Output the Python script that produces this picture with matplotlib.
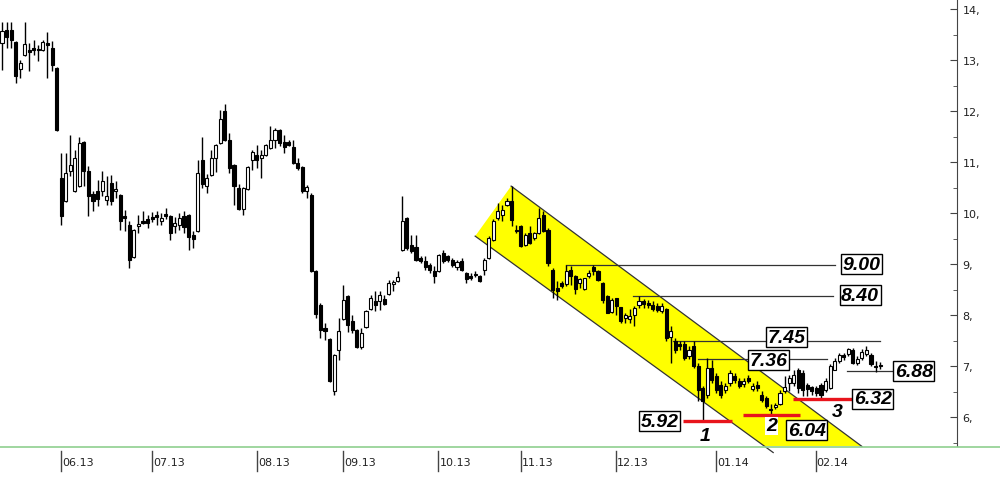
import matplotlib
matplotlib.use("Agg")
import matplotlib.pyplot as plt
from matplotlib.lines import Line2D
from matplotlib.patches import Polygon
from matplotlib.ticker import MultipleLocator, FuncFormatter

# daily candles, Jun 2013 - Feb 2014
opens = [
    13.33, 13.59, 13.59, 13.35, 12.82, 13.10, 13.20, 13.24, 13.21, 13.20,
    13.33, 13.24, 12.84, 10.69, 10.24, 10.82, 10.43, 10.53, 11.39, 10.82,
    10.37, 10.43, 10.43, 10.26, 10.59, 10.43, 10.35, 9.94, 9.77, 9.14,
    9.75, 9.84, 9.88, 9.91, 9.96, 9.84, 9.98, 9.94, 9.75, 9.77,
    9.94, 9.96, 9.57, 9.65, 11.04, 10.53, 10.75, 11.08, 11.37, 12.00,
    11.43, 10.94, 10.49, 10.08, 10.47, 11.04, 11.14, 11.08, 11.14, 11.27,
    11.43, 11.63, 11.39, 11.39, 11.29, 10.98, 10.90, 10.43, 10.35, 8.86,
    8.20, 7.75, 7.53, 6.51, 7.32, 7.92, 8.37, 7.88, 7.71, 7.37,
    7.77, 8.12, 8.27, 8.27, 8.31, 8.41, 8.61, 8.67, 9.27, 9.90,
    9.37, 9.33, 9.12, 9.06, 8.98, 8.86, 8.86, 9.22, 9.16, 9.08,
    8.94, 9.06, 8.82, 8.77, 8.80, 8.77, 8.88, 9.12, 9.47, 9.90,
    9.96, 10.16, 10.24, 9.67, 9.75, 9.37, 9.61, 9.51, 9.61, 9.96,
    9.67, 8.88, 8.53, 8.63, 8.61, 8.88, 8.77, 8.63, 8.51, 8.77,
    8.94, 8.86, 8.63, 8.37, 8.06, 8.33, 8.16, 7.94, 7.92, 8.00,
    8.20, 8.27, 8.24, 8.20, 8.18, 8.08, 8.12, 7.57, 7.49, 7.43,
    7.43, 7.20, 7.39, 7.00, 6.57, 6.43, 6.96, 6.80, 6.63, 6.53,
    6.67, 6.80, 6.71, 6.65, 6.77, 6.55, 6.63, 6.43, 6.37, 6.16,
    6.20, 6.27, 6.51, 6.67, 6.67, 6.92, 6.86, 6.63, 6.59, 6.57,
    6.63, 6.53, 6.57, 6.92, 7.10, 7.22, 7.24, 7.31, 7.06, 7.16,
    7.24, 7.22, 7.00, 7.02,
]
highs = [
    13.75, 13.75, 13.75, 13.37, 13.00, 13.75, 13.33, 13.39, 13.29, 13.39,
    13.55, 13.37, 12.86, 11.18, 11.18, 11.53, 11.24, 11.49, 11.41, 10.92,
    10.43, 10.65, 10.82, 10.73, 10.75, 10.63, 10.37, 10.06, 9.84, 9.69,
    9.96, 10.04, 9.96, 10.02, 10.04, 10.00, 10.10, 9.96, 9.92, 10.00,
    10.04, 9.98, 9.65, 11.04, 11.49, 10.77, 11.24, 11.35, 12.02, 12.14,
    11.57, 10.96, 10.57, 10.51, 10.92, 11.24, 11.33, 11.24, 11.35, 11.71,
    11.67, 11.65, 11.53, 11.43, 11.43, 11.08, 10.92, 10.55, 10.39, 8.88,
    8.24, 7.85, 7.55, 7.24, 7.94, 8.59, 8.39, 8.00, 7.73, 7.75,
    8.10, 8.39, 8.47, 8.47, 8.39, 8.69, 8.69, 8.86, 10.33, 9.92,
    9.57, 9.57, 9.16, 9.16, 9.02, 8.96, 9.20, 9.28, 9.18, 9.12,
    9.08, 9.12, 8.84, 8.82, 8.86, 8.79, 9.12, 9.55, 9.88, 10.20,
    10.16, 10.29, 10.53, 9.77, 9.77, 9.61, 9.75, 9.63, 10.10, 10.04,
    9.71, 8.92, 8.67, 8.67, 8.98, 8.96, 8.79, 8.73, 8.73, 8.88,
    8.98, 8.88, 8.65, 8.39, 8.33, 8.33, 8.16, 8.04, 8.12, 8.18,
    8.37, 8.31, 8.29, 8.27, 8.24, 8.24, 8.14, 7.78, 7.55, 7.49,
    7.49, 7.39, 7.49, 7.06, 6.61, 7.16, 7.12, 6.86, 6.71, 6.67,
    6.92, 6.86, 6.77, 6.77, 6.82, 6.67, 6.71, 6.51, 6.41, 6.27,
    6.29, 6.53, 6.80, 6.82, 6.92, 6.96, 6.92, 6.67, 6.61, 6.61,
    6.67, 6.77, 7.04, 7.16, 7.26, 7.26, 7.35, 7.35, 7.20, 7.33,
    7.39, 7.26, 7.10, 7.08,
]
lows = [
    12.80, 13.24, 13.24, 12.55, 12.65, 13.08, 12.78, 13.10, 12.98, 13.18,
    12.65, 12.78, 11.61, 9.77, 10.22, 10.73, 10.41, 10.51, 10.53, 9.94,
    10.04, 10.14, 10.33, 10.16, 10.16, 10.29, 9.67, 9.65, 8.92, 9.12,
    9.61, 9.78, 9.71, 9.82, 9.77, 9.77, 9.88, 9.47, 9.61, 9.67,
    9.61, 9.27, 9.31, 9.63, 10.49, 10.39, 10.73, 10.80, 11.35, 11.41,
    10.78, 10.16, 10.06, 9.96, 10.45, 10.84, 10.88, 10.69, 11.12, 11.25,
    11.27, 11.31, 11.18, 11.31, 10.96, 10.84, 10.39, 10.29, 8.84, 7.94,
    7.55, 7.51, 6.69, 6.43, 7.12, 7.90, 7.67, 7.65, 7.35, 7.33,
    7.75, 8.10, 8.08, 8.10, 8.20, 8.39, 8.47, 8.65, 9.25, 9.27,
    9.22, 9.06, 9.02, 8.88, 8.82, 8.63, 8.84, 9.02, 9.04, 8.94,
    8.88, 8.86, 8.63, 8.69, 8.75, 8.65, 8.79, 9.10, 9.45, 9.86,
    9.84, 10.14, 9.75, 9.61, 9.33, 9.35, 9.39, 9.47, 9.59, 9.63,
    8.96, 8.33, 8.29, 8.53, 8.57, 8.59, 8.41, 8.53, 8.49, 8.73,
    8.79, 8.67, 8.24, 8.04, 8.04, 8.00, 7.84, 7.84, 7.84, 7.79,
    8.14, 8.14, 8.14, 8.08, 8.06, 8.04, 7.49, 7.06, 7.26, 7.31,
    7.12, 7.14, 6.96, 6.32, 5.92, 6.37, 6.67, 6.47, 6.37, 6.47,
    6.61, 6.67, 6.57, 6.59, 6.67, 6.51, 6.51, 6.30, 6.18, 6.04,
    6.16, 6.24, 6.47, 6.51, 6.61, 6.47, 6.41, 6.41, 6.43, 6.41,
    6.33, 6.49, 6.55, 6.92, 7.06, 7.12, 7.20, 7.04, 7.02, 7.12,
    7.20, 7.00, 6.88, 6.94,
]
closes = [
    13.57, 13.45, 13.39, 12.69, 12.94, 13.31, 13.16, 13.20, 13.19, 13.35,
    13.29, 12.90, 11.63, 9.94, 10.79, 10.94, 11.08, 11.37, 10.82, 10.33,
    10.24, 10.28, 10.63, 10.33, 10.24, 10.47, 9.84, 9.90, 9.08, 9.67,
    9.79, 9.80, 9.80, 9.89, 9.92, 9.90, 9.94, 9.61, 9.81, 9.90,
    9.73, 9.53, 9.49, 10.78, 10.57, 10.69, 11.08, 11.33, 11.84, 11.43,
    10.88, 10.53, 10.08, 10.49, 10.90, 11.20, 11.04, 11.14, 11.33, 11.43,
    11.63, 11.37, 11.29, 11.33, 10.98, 10.88, 10.43, 10.51, 8.86, 8.02,
    7.71, 7.69, 6.71, 7.22, 7.69, 8.30, 7.80, 7.71, 7.37, 7.65,
    8.08, 8.33, 8.20, 8.39, 8.22, 8.63, 8.65, 8.75, 9.84, 9.31,
    9.25, 9.08, 9.06, 8.94, 8.88, 8.77, 9.18, 9.06, 9.08, 8.98,
    9.04, 8.88, 8.71, 8.73, 8.78, 8.67, 9.08, 9.51, 9.84, 10.04,
    10.06, 10.24, 9.86, 9.65, 9.35, 9.57, 9.41, 9.61, 9.90, 9.65,
    9.02, 8.49, 8.47, 8.57, 8.86, 8.77, 8.51, 8.71, 8.73, 8.83,
    8.86, 8.69, 8.30, 8.04, 8.30, 8.18, 7.88, 8.00, 7.98, 8.14,
    8.27, 8.22, 8.20, 8.12, 8.10, 8.18, 7.55, 7.69, 7.31, 7.39,
    7.16, 7.31, 7.00, 6.53, 6.32, 6.96, 6.73, 6.53, 6.43, 6.61,
    6.86, 6.73, 6.61, 6.71, 6.71, 6.61, 6.57, 6.33, 6.22, 6.14,
    6.25, 6.47, 6.59, 6.77, 6.82, 6.57, 6.53, 6.55, 6.51, 6.47,
    6.43, 6.71, 7.00, 7.10, 7.22, 7.18, 7.33, 7.06, 7.14, 7.28,
    7.31, 7.04, 6.98, 7.00,
]

month_labels = ["06.13", "07.13", "08.13", "09.13", "10.13",
                "11.13", "12.13", "01.14", "02.14"]
month_pos = [12.97, 33.03, 55.98, 75.01, 95.89, 114.0, 134.9, 156.9, 178.8]

# descending channel corners: top, upper end, lower end, left
channel_x = [111.9, 189.0, 169.5, 104.0]
channel_y = [10.53, 5.43, 5.31, 9.55]

# resistance levels: label, level, start, end
res_labels = ["9.00", "8.40", "7.45", "7.36", "6.88"]
res_levels = [8.98, 8.37, 7.49, 7.14, 6.90]
res_start = [124.0, 138.7, 147.5, 153.0, 185.7]
res_end = [183.1, 182.6, 193.0, 181.3, 195.6]
res_box_x = [189.0, 188.6, 172.5, 168.4, 200.4]
res_box_y = [9.00, 8.39, 7.57, 7.12, 6.90]

# support lows: label, level, start, end
sup_labels = ["5.92", "6.04", "6.32"]
sup_num = ["1", "2", "3"]
sup_levels = [5.93, 6.05, 6.36]
sup_start = [149.7, 162.9, 173.8]
sup_end = [160.4, 175.4, 187.0]
sup_box_x = [144.6, 176.9, 191.4]
sup_box_y = [5.92, 5.75, 6.36]
sup_num_x = [154.6, 169.2, 183.5]
sup_num_y = [5.65, 5.83, 6.12]

fig = plt.figure(figsize=(10, 5.02), dpi=100)
ax = fig.add_axes([0, 1 - 447 / 502, 0.957, 447 / 502])
ax.set_xlim(-0.44, 209.9)
ax.set_ylim(5.438, 14.196)

# channel
ax.add_patch(Polygon(list(zip(channel_x, channel_y)), closed=True,
                     facecolor="#ffff00", edgecolor="none", zorder=1))
ax.plot([channel_x[0], channel_x[1]], [channel_y[0], channel_y[1]],
        color="#333333", lw=0.9, zorder=2, clip_on=False)
ax.plot([channel_x[3], channel_x[2]], [channel_y[3], channel_y[2]],
        color="#333333", lw=0.9, zorder=2, clip_on=False)

# candles
idx = list(range(len(opens)))
ax.vlines(idx, lows, highs, color="black", lw=1, zorder=3)
up = [c >= o for o, c in zip(opens, closes)]
bottoms = [min(o, c) for o, c in zip(opens, closes)]
heights = [max(abs(c - o), 0.025) for o, c in zip(opens, closes)]
ax.bar(idx, heights, bottom=bottoms, width=0.68,
       color=["white" if u else "black" for u in up],
       edgecolor="black", linewidth=0.8, zorder=4)

box_font = dict(family=["Liberation Sans", "DejaVu Sans"], weight="bold",
                style="italic", size=14)
bbox = dict(boxstyle="square,pad=0.08", facecolor="white",
            edgecolor="black", linewidth=1)

for lab, lv, s, e, bx, by in zip(res_labels, res_levels, res_start, res_end,
                                 res_box_x, res_box_y):
    ax.plot([s, e], [lv, lv], color="#333333", lw=0.9, zorder=2)
    ax.text(bx, by, lab, ha="center", va="center", bbox=bbox, zorder=6,
            **box_font)

for lab, n, lv, s, e, bx, by, nx, ny in zip(sup_labels, sup_num, sup_levels,
                                             sup_start, sup_end, sup_box_x,
                                             sup_box_y, sup_num_x, sup_num_y):
    ax.plot([s, e], [lv, lv], color="#e8141c", lw=2.4, zorder=5,
            solid_capstyle="butt")
    ax.text(bx, by, lab, ha="center", va="center", bbox=bbox, zorder=6,
            **box_font)
    nb = None
    if n == "2":
        nb = dict(boxstyle="square,pad=0.05", facecolor="white",
                  edgecolor="none")
    ax.text(nx, ny, n, ha="center", va="center", bbox=nb, zorder=6,
            **box_font)

# axes styling
for s in ["top", "left", "bottom"]:
    ax.spines[s].set_visible(False)
ax.spines["right"].set_color("#444444")
ax.yaxis.tick_right()
ax.yaxis.set_major_locator(MultipleLocator(1))
ax.yaxis.set_minor_locator(MultipleLocator(0.5))
ax.yaxis.set_major_formatter(FuncFormatter(lambda v, p: "%d," % round(v)))
ax.tick_params(axis="y", which="major", direction="in", length=5,
               color="#444444", labelsize=8, labelcolor="#222222", pad=4)
ax.tick_params(axis="y", which="minor", direction="in", length=3,
               color="#444444")
ax.set_xticks([])

xt = ax.get_xaxis_transform()
for pos, lab in zip(month_pos, month_labels):
    ax.plot([pos, pos], [-0.011, -0.056], color="#444444", lw=1,
            transform=xt, clip_on=False)
    ax.text(pos + 0.25, -0.036, lab, transform=xt, ha="left", va="center",
            fontsize=8, color="#222222")

fig.add_artist(Line2D([0, 1], [1 - 447.5 / 502, 1 - 447.5 / 502],
                      color="#8fd08f", lw=1.2))

fig.savefig("out.png", dpi=100)
